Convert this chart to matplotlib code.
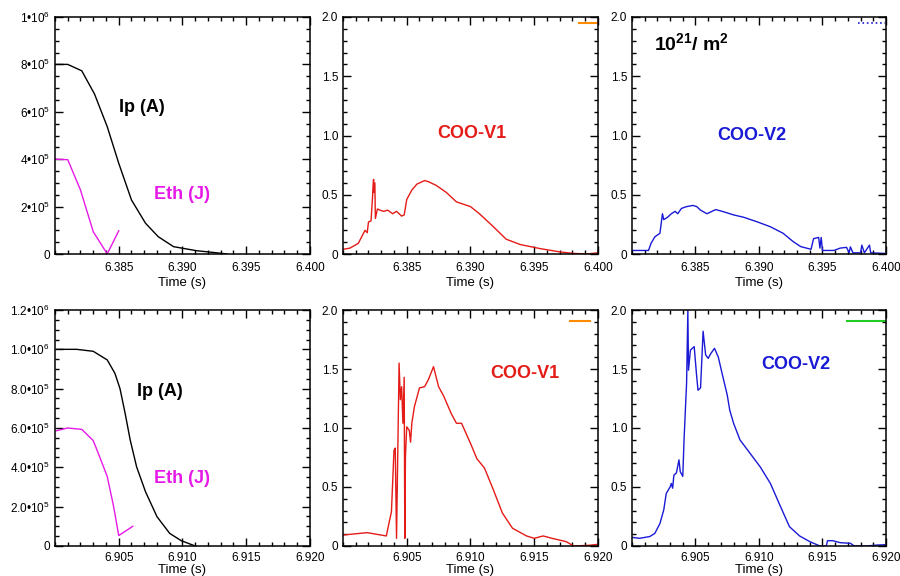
import matplotlib
matplotlib.use("Agg")
import matplotlib.pyplot as plt
from matplotlib.ticker import FixedLocator, MultipleLocator

plt.rcParams['font.family'] = ['Liberation Sans', 'DejaVu Sans']
plt.rcParams['mathtext.fontset'] = 'custom'
plt.rcParams['mathtext.rm'] = 'Liberation Sans'
plt.rcParams['mathtext.bf'] = 'Liberation Sans:bold'
plt.rcParams['mathtext.it'] = 'Liberation Sans:italic'

# ---- shot 1 (top row), time in s ----
ip1_t = [6.3800, 6.3810, 6.3821, 6.3831, 6.3841, 6.3850, 6.3860, 6.3871,
         6.3881, 6.3893, 6.3911, 6.3927, 6.3935]
ip1_v = [8.0e5, 8.0e5, 7.73e5, 6.75e5, 5.37e5, 3.83e5, 2.28e5, 1.30e5,
         0.73e5, 0.31e5, 0.14e5, 0.05e5, 0.0]
eth1_t = [6.3800, 6.3810, 6.3820, 6.3830, 6.3841, 6.3850]
eth1_v = [4.0e5, 3.98e5, 2.7e5, 0.94e5, 0.06e4, 0.98e5]

v1a_t = [6.38003, 6.38055, 6.3812, 6.38173, 6.3819, 6.3820, 6.3822, 6.3823,
         6.3824, 6.3824, 6.3825, 6.38254, 6.3827, 6.3829, 6.3832, 6.3835,
         6.3839, 6.3842, 6.3846, 6.3848, 6.3850, 6.3854, 6.3858, 6.3864,
         6.3867, 6.3873, 6.3881, 6.3889, 6.3900, 6.3907, 6.3918, 6.3928,
         6.3939, 6.3955, 6.3970, 6.3981, 6.3991, 6.4000]
v1a_v = [0.04, 0.05, 0.09, 0.20, 0.18, 0.27, 0.28, 0.45,
         0.63, 0.52, 0.60, 0.30, 0.38, 0.37, 0.36, 0.37,
         0.34, 0.36, 0.32, 0.33, 0.46, 0.54, 0.59, 0.62,
         0.61, 0.58, 0.52, 0.44, 0.40, 0.34, 0.23, 0.125,
         0.08, 0.045, 0.018, 0.005, 0.0, 0.01]

v2a_t = [6.3800, 6.3813, 6.3815, 6.3818, 6.3822, 6.3824, 6.3825, 6.3828,
         6.3831, 6.3834, 6.3836, 6.3839, 6.3843, 6.3848, 6.3851, 6.3854,
         6.3859, 6.3866, 6.3872, 6.3880, 6.3888, 6.3899, 6.3909, 6.3919,
         6.3927, 6.3933, 6.3941, 6.3943, 6.3947, 6.3948, 6.3949, 6.3950,
         6.3959, 6.3964, 6.3969, 6.3971, 6.3972, 6.3974, 6.3980, 6.3981,
         6.3983, 6.3987, 6.3988, 6.3999]
v2a_v = [0.03, 0.03, 0.09, 0.145, 0.175, 0.34, 0.29, 0.31,
         0.34, 0.36, 0.34, 0.385, 0.40, 0.41, 0.40, 0.37,
         0.34, 0.375, 0.357, 0.33, 0.31, 0.27, 0.23, 0.175,
         0.104, 0.062, 0.04, 0.13, 0.14, 0.05, 0.14, 0.03,
         0.03, 0.05, 0.056, 0.01, 0.06, 0.01, 0.01, 0.075,
         0.01, 0.075, 0.01, 0.005]

# ---- shot 2 (bottom row) ----
ip2_t = [6.9001, 6.9017, 6.9030, 6.9041, 6.9047, 6.9051, 6.9055, 6.9059,
         6.9064, 6.9071, 6.9080, 6.9090, 6.9099, 6.9110]
ip2_v = [1.0e6, 1.0e6, 0.99e6, 0.946e6, 0.878e6, 0.80e6, 0.675e6, 0.539e6,
         0.403e6, 0.276e6, 0.149e6, 0.064e6, 0.027e6, 0.0]
eth2_t = [6.9001, 6.9010, 6.9021, 6.9030, 6.9035, 6.9041, 6.9046, 6.9050,
          6.9061]
eth2_v = [0.586e6, 0.60e6, 0.593e6, 0.536e6, 0.454e6, 0.353e6, 0.20e6,
          0.053e6, 0.10e6]

v1b_t = [6.9000, 6.9019, 6.9034, 6.9036, 6.9038, 6.9040, 6.9041, 6.90412,
         6.9042, 6.9044, 6.9045, 6.9046, 6.9047, 6.9048, 6.90485, 6.9049,
         6.9050, 6.9052, 6.9053, 6.9054, 6.9056, 6.9060, 6.9064, 6.9067,
         6.9071, 6.9075, 6.9079, 6.9085, 6.9089, 6.9093, 6.9100, 6.9105,
         6.9111, 6.9118, 6.9125, 6.9133, 6.9144, 6.9150, 6.9157, 6.9164,
         6.9175, 6.9181, 6.9193, 6.9200]
v1b_v = [0.093, 0.113, 0.085, 0.19, 0.29, 0.81, 0.83, 0.67,
         0.065, 1.55, 1.24, 1.35, 1.04, 1.43, 0.065, 0.76,
         1.01, 0.98, 0.88, 1.04, 1.18, 1.34, 1.35, 1.41,
         1.52, 1.35, 1.27, 1.12, 1.04, 1.04, 0.87, 0.74,
         0.66, 0.475, 0.28, 0.15, 0.085, 0.065, 0.085, 0.065,
         0.037, 0.0, 0.006, 0.014]

v2b_t = [6.9000, 6.9006, 6.9014, 6.9018, 6.9022, 6.9025, 6.9027, 6.9030,
         6.9031, 6.9032, 6.9033, 6.9035, 6.9037, 6.9038, 6.9040, 6.9041,
         6.9043, 6.9044, 6.90445, 6.9046, 6.9049, 6.9051, 6.9052, 6.9054,
         6.9056, 6.9058, 6.9060, 6.9062, 6.9065, 6.9068, 6.9071, 6.9075,
         6.9077, 6.9080, 6.9085, 6.9093, 6.9101, 6.9109, 6.9117, 6.9124,
         6.9132, 6.9140, 6.9148, 6.9153, 6.9154, 6.9158, 6.9164, 6.9172,
         6.9175, 6.9185, 6.9193, 6.9200]
v2b_v = [0.073, 0.065, 0.08, 0.107, 0.19, 0.305, 0.446, 0.50,
         0.53, 0.49, 0.60, 0.62, 0.73, 0.63, 0.59, 0.90,
         1.38, 2.0, 1.49, 1.66, 1.69, 1.43, 1.32, 1.34,
         1.82, 1.62, 1.59, 1.63, 1.675, 1.60, 1.46, 1.28,
         1.15, 1.04, 0.90, 0.785, 0.67, 0.53, 0.333, 0.164,
         0.085, 0.037, 0.0, 0.0, 0.045, 0.045, 0.028, 0.023,
         0.0, 0.0, 0.008, 0.011]

# small marks in the upper right corners
mark1_t = [6.3985, 6.3999]
mark2_t = [6.3978, 6.3999]
mark3_t = [6.9178, 6.9194]
mark4_t = [6.9169, 6.9199]
mark_top_v = [1.95, 1.95]
mark_bot_v = [1.91, 1.91]

top_xticks = [6.385, 6.390, 6.395, 6.400]
top_xlabels = ['6.385', '6.390', '6.395', '6.400']
bot_xticks = [6.905, 6.910, 6.915, 6.920]
bot_xlabels = ['6.905', '6.910', '6.915', '6.920']

ip1_yticks = [0, 2e5, 4e5, 6e5, 8e5, 1e6]
ip1_ylabels = ['0', r'$2•10^{5}$', r'$4•10^{5}$', r'$6•10^{5}$',
               r'$8•10^{5}$', r'$1•10^{6}$']
ip2_yticks = [0, 2e5, 4e5, 6e5, 8e5, 1e6, 1.2e6]
ip2_ylabels = ['0', r'$2.0•10^{5}$', r'$4.0•10^{5}$', r'$6.0•10^{5}$',
               r'$8.0•10^{5}$', r'$1.0•10^{6}$', r'$1.2•10^{6}$']
coo_yticks = [0, 0.5, 1.0, 1.5, 2.0]
coo_ylabels = ['0', '0.5', '1.0', '1.5', '2.0']

RED = '#e41b17'
BLUE = '#1a1ad6'
MAGENTA = '#e619e6'


def style_axis(ax, t0, xticks, xlabels, ylim, yticks, ylabels, yminor,
               xpad=6, labelpad=2):
    ax.set_xlim(t0, t0 + 0.020)
    ax.set_ylim(*ylim)
    ax.xaxis.set_major_locator(FixedLocator(xticks))
    ax.set_xticklabels(xlabels)
    ax.xaxis.set_minor_locator(MultipleLocator(0.001))
    ax.yaxis.set_major_locator(FixedLocator(yticks))
    ax.set_yticklabels(ylabels)
    ax.yaxis.set_minor_locator(MultipleLocator(yminor))
    ax.tick_params(which='both', direction='in', top=True, right=True,
                   labelsize=8.5, width=1.0)
    ax.tick_params(which='major', length=6)
    ax.tick_params(which='minor', length=3)
    ax.tick_params(axis='x', which='major', pad=xpad)
    for sp in ax.spines.values():
        sp.set_linewidth(1.1)
    ax.set_xlabel('Time (s)', fontsize=9.5, labelpad=labelpad)


fig = plt.figure(figsize=(9, 5.76), dpi=100)
lefts = [0.0611, 0.3811, 0.7022]
widths = [0.2833, 0.2833, 0.2822]
axes_top = [fig.add_axes([l, 0.5590, w, 0.4115]) for l, w in zip(lefts, widths)]
axes_bot = [fig.add_axes([l, 0.0521, w, 0.4097]) for l, w in zip(lefts, widths)]

bold = dict(fontsize=13, fontweight='bold', ha='center', va='center')
# bottom row: tighter label spacing so "Time (s)" stays inside the image
bot_pads = dict(xpad=4, labelpad=0)

# top row
ax = axes_top[0]
ax.plot(ip1_t, ip1_v, color='black', lw=1.0)
ax.plot(eth1_t, eth1_v, color=MAGENTA, lw=1.0)
style_axis(ax, 6.380, top_xticks, top_xlabels, (0, 1e6), ip1_yticks, ip1_ylabels, 5e4)
ax.text(0.341, 0.62, 'Ip (A)', transform=ax.transAxes, color='black', **bold)
ax.text(0.498, 0.249, 'Eth (J)', transform=ax.transAxes, color=MAGENTA, **bold)

ax = axes_top[1]
ax.plot(v1a_t, v1a_v, color=RED, lw=1.0)
ax.plot(mark1_t, mark_top_v, color='#ff8c00', lw=1.5)
style_axis(ax, 6.380, top_xticks, top_xlabels, (0, 2), coo_yticks, coo_ylabels, 0.1)
ax.text(0.506, 0.51, 'COO-V1', transform=ax.transAxes, color=RED, **bold)

ax = axes_top[2]
ax.plot(v2a_t, v2a_v, color=BLUE, lw=1.0)
ax.plot(mark2_t, mark_top_v, color=BLUE, lw=1.2, ls=':')
style_axis(ax, 6.380, top_xticks, top_xlabels, (0, 2), coo_yticks, coo_ylabels, 0.1)
ax.text(0.472, 0.502, 'COO-V2', transform=ax.transAxes, color=BLUE, **bold)
ax.text(0.236, 0.89, r'$\mathbf{10^{21}/\ m^{2}}$', transform=ax.transAxes,
        color='black', fontsize=14, ha='center', va='center')

# bottom row
ax = axes_bot[0]
ax.plot(ip2_t, ip2_v, color='black', lw=1.0)
ax.plot(eth2_t, eth2_v, color=MAGENTA, lw=1.0)
style_axis(ax, 6.900, bot_xticks, bot_xlabels, (0, 1.2e6), ip2_yticks, ip2_ylabels, 5e4,
           **bot_pads)
ax.text(0.412, 0.653, 'Ip (A)', transform=ax.transAxes, color='black', **bold)
ax.text(0.498, 0.288, 'Eth (J)', transform=ax.transAxes, color=MAGENTA, **bold)

ax = axes_bot[1]
ax.plot(v1b_t, v1b_v, color=RED, lw=1.0)
ax.plot(mark3_t, mark_bot_v, color='#ff8c00', lw=1.5)
style_axis(ax, 6.900, bot_xticks, bot_xlabels, (0, 2), coo_yticks, coo_ylabels, 0.1,
           **bot_pads)
ax.text(0.714, 0.733, 'COO-V1', transform=ax.transAxes, color=RED, **bold)

ax = axes_bot[2]
ax.plot(v2b_t, v2b_v, color=BLUE, lw=1.0)
ax.plot(mark4_t, mark_bot_v, color='#22cc22', lw=1.5)
style_axis(ax, 6.900, bot_xticks, bot_xlabels, (0, 2), coo_yticks, coo_ylabels, 0.1,
           **bot_pads)
ax.text(0.646, 0.767, 'COO-V2', transform=ax.transAxes, color=BLUE, **bold)

fig.savefig('out.png', dpi=100)
